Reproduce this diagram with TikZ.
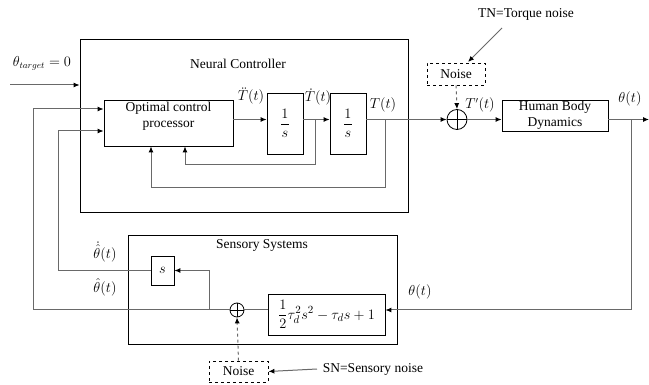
\documentclass[tikz,border=0pt]{standalone}
\usepackage{amsmath}
\usepackage{fontspec}
\setmainfont{Liberation Serif}
\usetikzlibrary{arrows.meta}
\definecolor{lineg}{RGB}{105,105,105}
\begin{document}
\begin{tikzpicture}[x=1pt,y=-1pt,
  font=\fontsize{13.5}{16}\selectfont,
  blk/.style={draw=black, line width=0.8pt, inner sep=0pt},
  lab/.style={inner sep=0.5pt},
  conn/.style={draw=lineg, line width=1pt},
  arr/.style={conn, -{Latex[length=6pt,width=5pt,black]}},
  noisebox/.style={blk, dashed},
  sumc/.style={circle, draw=black, line width=0.8pt, inner sep=0pt,
    path picture={\draw[line width=0.8pt] (path picture bounding box.north) -- (path picture bounding box.south)
      (path picture bounding box.west) -- (path picture bounding box.east);}}]
\useasboundingbox (0,0) rectangle (649,385);
% Neural controller
\node[blk, minimum width=328pt, minimum height=173pt] (nc) at (244,125.5) {};
\node[lab] (nclab) at (238,64) {Neural Controller};
\node[blk, minimum width=129pt, minimum height=46pt] (opt) at (168.5,123) {};
\node[lab, align=center] (optlab) at (168.5,116) {Optimal control\\processor};
\node[blk, minimum width=36pt, minimum height=61pt] (i1) at (285,123.5) {$\dfrac{1}{s}$};
\node[blk, minimum width=36pt, minimum height=61pt] (i2) at (348,123.5) {$\dfrac{1}{s}$};
\node[sumc, minimum size=20pt] (s1) at (457,119.5) {};
\node[noisebox, minimum width=58pt, minimum height=22pt] (n1) at (456,74) {Noise};
\node[lab] (tn) at (526,14) {TN=Torque noise};
\node[blk, minimum width=106pt, minimum height=31pt, align=center] (hbd) at (555,115.5) {Human Body\\Dynamics};
\coordinate (out) at (649,119.5);
\coordinate (br) at (631,119.5);
\node[lab] (thout) at (630,99) {$\theta(t)$};
% labels
\node[lab] (tdd) at (251,96) {$\ddot T(t)$};
\node[lab] (td) at (318,97) {$\dot T(t)$};
\node[lab] (tt) at (383,105) {$T(t)$};
\node[lab] (tp) at (480,105) {$T'(t)$};
\node[lab] (tgt) at (42,63) {$\theta_{target}=0$};
\coordinate (tgtstart) at (10,85);
% Sensory systems
\node[blk, minimum width=269pt, minimum height=109pt] (ss) at (262.5,289.5) {};
\node[lab] (sslab) at (262,245) {Sensory Systems};
\node[blk, minimum width=23pt, minimum height=29pt] (sb) at (162.5,270.5) {$s$};
\node[blk, minimum width=117pt, minimum height=41pt, font=\fontsize{15}{18}\selectfont] (tf) at (326.5,314.5) {$\dfrac{1}{2}\tau_d^2s^2-\tau_d s+1$};
\node[sumc, minimum size=14pt] (s2) at (237,310) {};
\node[noisebox, minimum width=59pt, minimum height=21pt] (n2) at (238.5,371.5) {Noise};
\node[lab] (sn) at (373,369) {SN=Sensory noise};
\coordinate (snstart) at (317,369);
\node[lab] (thin) at (420,292) {$\theta(t)$};
\node[lab] (thd) at (105,252) {$\dot{\hat\theta}(t)$};
\node[lab] (th) at (105,287) {$\hat\theta(t)$};
% coordinates
\coordinate (m) at (0,119.5);
\coordinate (f1) at (315,119.5);
\coordinate (f2) at (385,119.5);
\coordinate (fb1) at (185,165);
\coordinate (fb2) at (151,188);
\coordinate (L1) at (33,310);
\coordinate (L1t) at (33,109);
\coordinate (L2) at (58,270.5);
\coordinate (L2t) at (58,131);
\coordinate (j) at (209,310);
\coordinate (tnstart) at (502,28);
\coordinate (tnend) at (468,62);
% connectors
\draw[arr] (opt.east |- m) -- (i1.west |- m);
\draw[arr] (i1.east |- m) -- (i2.west |- m);
\draw[arr] (i2.east |- m) -- (s1.west);
\draw[arr] (s1.east) -- (hbd.west |- m);
\draw[arr] (hbd.east |- m) -- (out);
\draw[arr] (f1) |- (fb1) -- (fb1 |- opt.south);
\draw[arr] (f2) |- (fb2) -- (fb2 |- opt.south);
\draw[arr] (tgtstart) -- (nc.west |- tgtstart);
\draw[arr] (br) |- (tf.east |- s2);
\draw[conn] (tf.west |- s2) -- (s2.east);
\draw[arr] (s2.west) -- (L1) -- (L1t) -- (opt.west |- L1t);
\draw[arr] (j) -- (j |- sb) -- (sb.east);
\draw[arr] (sb.west) -- (L2) -- (L2t) -- (opt.west |- L2t);
\draw[arr, dashed] (n2.north) -- (s2.south);
\draw[arr, dashed] (n1.south) -- (s1.north);
\draw[arr] (snstart) -- (n2.east);
\draw[arr] (tnstart) -- (tnend);
\end{tikzpicture}
\end{document}
